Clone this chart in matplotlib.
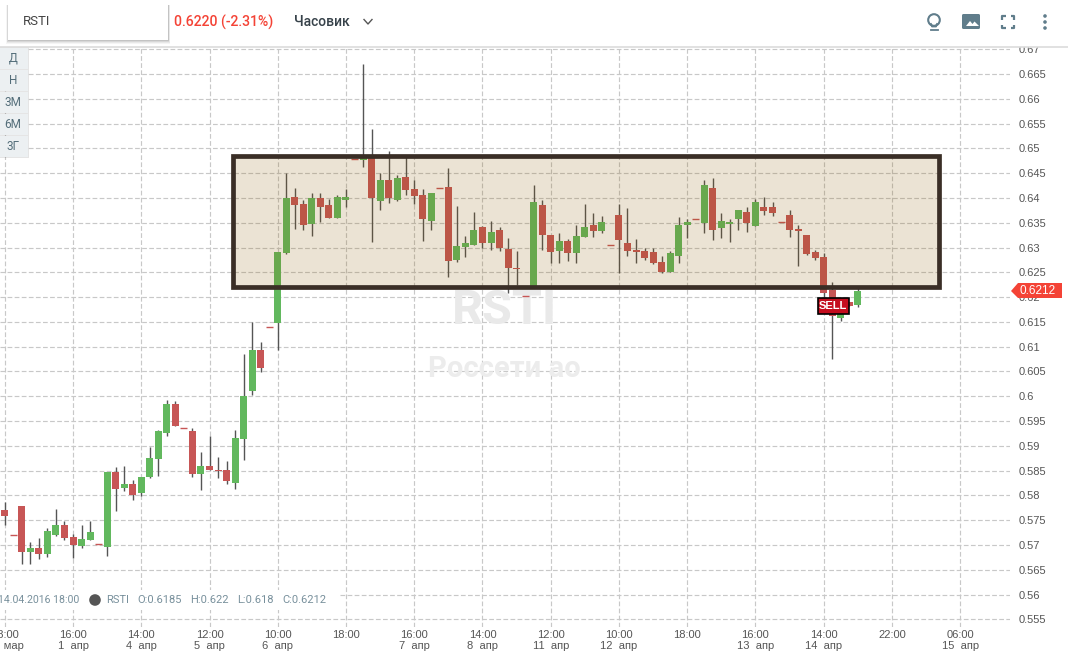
import numpy as np
import matplotlib
matplotlib.use("Agg")
import matplotlib.pyplot as plt
from matplotlib.patches import Rectangle, Polygon, Circle, FancyBboxPatch

plt.rcParams["font.family"] = ["Liberation Sans", "DejaVu Sans"]

### hourly candles
opens = [.5771, .5720, .5779, .5685, .5693, .5681, .5721, .5741, .5717, .5697,
         .5711, .5701, .5695, .5848, .5814, .5822, .5804, .5838, .5874, .5926,
         .5985, .5936, .5929, .5844, .5860, .5852, .5852, .5824, .5914, .6011,
         .6094, .6140, .6148, .6289, .6402, .6388, .6347, .6400, .6386, .6360,
         .6396, .6478, .6476, .6486, .6394, .6436, .6396, .6442, .6418, .6406,
         .6353, .6420, .6422, .6275, .6301, .6305, .6341, .6309, .6335, .6297,
         .6259, .6202, .6219, .6386, .6325, .6293, .6313, .6289, .6321, .6345,
         .6333, .6305, .6366, .6309, .6295, .6293, .6291, .6271, .6251, .6283,
         .6345, .6357, .6349, .6420, .6339, .6347, .6357, .6372, .6343, .6382,
         .6382, .6351, .6366, .6337, .6325, .6291, .6281, .6214, .6158, .6190,
         .6185]
closes = [.5759, .5720, .5685, .5693, .5681, .5729, .5741, .5715, .5699, .5713,
          .5727, .5701, .5848, .5812, .5822, .5800, .5838, .5876, .5929, .5985,
          .5939, .5936, .5844, .5860, .5852, .5850, .5830, .5916, .6000, .6094,
          .6057, .6140, .6291, .6400, .6386, .6345, .6400, .6382, .6360, .6402,
          .6402, .6478, .6482, .6400, .6436, .6400, .6440, .6416, .6404, .6358,
          .6410, .6420, .6273, .6303, .6309, .6335, .6309, .6331, .6299, .6259,
          .6257, .6202, .6392, .6325, .6291, .6313, .6289, .6323, .6341, .6333,
          .6351, .6305, .6315, .6293, .6291, .6279, .6269, .6251, .6289, .6345,
          .6351, .6357, .6426, .6335, .6353, .6351, .6376, .6349, .6392, .6374,
          .6370, .6351, .6335, .6333, .6287, .6279, .6208, .6162, .6170, .6182,
          .6212]
highs = [.5786, .5720, .5779, .5705, .5715, .5735, .5773, .5749, .5723, .5741,
         .5749, .5701, .5848, .5858, .5860, .5832, .5838, .5898, .5931, .5993,
         .5991, .5936, .5935, .5888, .5920, .5878, .5870, .5931, .6086, .6150,
         .6110, .6140, .6291, .6450, .6420, .6396, .6410, .6410, .6398, .6406,
         .6418, .6478, .6670, .6539, .6450, .6494, .6446, .6486, .6436, .6418,
         .6410, .6420, .6460, .6384, .6323, .6372, .6343, .6353, .6341, .6319,
         .6293, .6202, .6426, .6396, .6325, .6329, .6317, .6345, .6388, .6370,
         .6364, .6305, .6388, .6380, .6317, .6299, .6299, .6283, .6293, .6362,
         .6357, .6357, .6436, .6440, .6370, .6357, .6376, .6382, .6398, .6402,
         .6392, .6351, .6376, .6345, .6325, .6295, .6289, .6231, .6172, .6190,
         .6220]
lows = [.5741, .5720, .5661, .5661, .5671, .5675, .5719, .5711, .5673, .5693,
        .5711, .5701, .5677, .5769, .5808, .5790, .5798, .5836, .5840, .5920,
        .5939, .5936, .5838, .5810, .5852, .5836, .5822, .5812, .5872, .6003,
        .6049, .6140, .6094, .6287, .6337, .6335, .6323, .6351, .6360, .6360,
        .6382, .6478, .6462, .6311, .6376, .6390, .6394, .6406, .6388, .6313,
        .6335, .6420, .6241, .6271, .6281, .6305, .6299, .6295, .6293, .6208,
        .6225, .6202, .6219, .6295, .6269, .6269, .6273, .6269, .6321, .6321,
        .6329, .6305, .6249, .6283, .6269, .6275, .6267, .6249, .6251, .6269,
        .6319, .6357, .6329, .6315, .6319, .6311, .6335, .6331, .6343, .6366,
        .6364, .6351, .6321, .6263, .6285, .6275, .6200, .6076, .6152, .6182,
        .6180]

price_ticks = [.555, .56, .565, .57, .575, .58, .585, .59, .595, .6, .605, .61,
               .615, .62, .625, .63, .635, .64, .645, .65, .655, .66, .665, .67]
price_labels = ["0.555", "0.56", "0.565", "0.57", "0.575", "0.58", "0.585", "0.59",
                "0.595", "0.6", "0.605", "0.61", "0.615", "0.62", "0.625", "0.63",
                "0.635", "0.64", "0.645", "0.65", "0.655", "0.66", "0.665", "0.67"]
time_labels = ["18:00", "16:00", "14:00", "12:00", "10:00", "18:00", "16:00", "14:00",
               "12:00", "10:00", "18:00", "16:00", "14:00", "22:00", "06:00"]
day_labels = ["31  мар", "1  апр", "4  апр", "5  апр", "6  апр", "", "7  апр", "8  апр",
              "11  апр", "12  апр", "", "13  апр", "14  апр", "", "15  апр"]
bars_per_tick = 8

range_top = .6485
range_bottom = .6220
range_start = 26.75
range_end = 109.5
last_price = "0.6212"

GREEN = "#62b85e"
RED = "#c75656"
WICK = "#555555"
SLATE = "#607d8b"

W, H = 1068, 655
fig = plt.figure(figsize=(W / 100, H / 100), dpi=100, facecolor="white")

### chart area, x = 0..1010 px, y = 47..627 px
ax = fig.add_axes([0, 1 - 627 / H, 1010 / W, 580 / H])
ax.set_xlim(-0.56, 117.84)
ax.set_ylim(.55345, .67046)
for s in ax.spines.values():
    s.set_visible(False)

x = np.arange(len(opens))
o, c, h, l = map(np.array, (opens, closes, highs, lows))
up = c > o
colors = [GREEN if u else RED for u in up]

ax.vlines(x, l, h, color=WICK, lw=1.0, zorder=3)
ax.bar(x, np.abs(c - o), bottom=np.minimum(o, c), width=0.82, color=colors, lw=0, zorder=4)
flat = o == c
ax.hlines(c[flat], x[flat] - 0.41, x[flat] + 0.41, color=RED, lw=1.0, zorder=4)

tick_pos = np.arange(len(time_labels)) * bars_per_tick
ax.set_xticks(tick_pos)
ax.set_xticklabels([t + "\n" + d for t, d in zip(time_labels, day_labels)],
                   fontsize=8, color="#555555", linespacing=1.15)
ax.yaxis.tick_right()
ax.set_yticks(price_ticks)
ax.set_yticklabels(price_labels, fontsize=8, color="#555555")
ax.tick_params(axis="both", length=0)
ax.tick_params(axis="x", pad=2)
ax.tick_params(axis="y", pad=6)
ax.grid(True, color="#c8c8c8", lw=0.85, linestyle=(0, (4, 2)), zorder=1)
ax.set_axisbelow(True)

# watermark
ax.text(58.6, .6173, "RSTI", fontsize=35, fontweight="bold", family="Roboto", color="#e9e9e9",
        ha="center", va="center", zorder=2)
ax.text(58.6, .6056, "Россети ао", fontsize=21, fontweight="bold", family="Roboto", color="#ececec",
        ha="center", va="center", zorder=2)

# the hand drawn range box
ax.add_patch(Rectangle((range_start, range_bottom), range_end - range_start, range_top - range_bottom,
                       facecolor="#8a5a00", alpha=.17, lw=0, zorder=5))
ax.add_patch(Rectangle((range_start, range_bottom), range_end - range_start, range_top - range_bottom,
                       fill=False, edgecolor="#3a2e26", lw=3.4, joinstyle="miter", zorder=6))

### everything else is page furniture, drawn in pixels
ui = fig.add_axes([0, 0, 1, 1], zorder=5)
ui.set_xlim(0, W)
ui.set_ylim(H, 0)
ui.axis("off")
ui.patch.set_alpha(0)

ui.add_patch(Rectangle((0, 0), W, 46.5, facecolor="white", lw=0))
ui.plot([0, W], [46.7, 46.7], color="#dcdcdc", lw=1.2)

# symbol box with a soft shadow
for k, a in ((4, .04), (3, .05), (2, .07), (1, .09)):
    ui.add_patch(Rectangle((8 - k / 2, 5), 160 + k, 35 + k, facecolor="black", alpha=a, lw=0))
ui.add_patch(Rectangle((8, 5), 160, 35, facecolor="white", lw=0))
ui.text(23, 21.5, "RSTI", fontsize=9.5, family="Roboto", color="#444444", va="center")
ui.text(174, 22, "0.6220 (-2.31%)", fontsize=10.1, family="Roboto", fontweight="medium",
        color="#f44336", va="center")
ui.text(294, 22, "Часовик", fontsize=10, family="Roboto", fontweight="medium", color="#37424a", va="center")
ui.plot([364, 368, 372], [19.5, 24, 19.5], color="#555555", lw=1)

# period buttons
ui.add_patch(Rectangle((0, 47), 28.5, 111, facecolor="black", alpha=.1, lw=0))
for i, name in enumerate(["Д", "Н", "3М", "6М", "3Г"]):
    ui.add_patch(Rectangle((0, 47.5 + 22 * i), 27.5, 21, facecolor="#ecf0f2", lw=0))
    ui.text(13, 58 + 22 * i, name, fontsize=8.5, family="Roboto", color="#546e7a", ha="center", va="center")

# header icons
ui.add_patch(Circle((934, 20), 5.8, fill=False, edgecolor=SLATE, lw=1.5))
ui.plot([931, 932, 936, 937], [24, 26.5, 26.5, 24], color=SLATE, lw=1.3)
ui.plot([930.5, 937.5], [29.5, 29.5], color=SLATE, lw=1.3)
ui.add_patch(FancyBboxPatch((962, 14), 18, 15, boxstyle="round,pad=0,rounding_size=1.5", facecolor=SLATE, lw=0))
ui.add_patch(Polygon([(966, 26), (970, 21), (972.5, 24), (974.5, 21.5), (979, 26)], facecolor="white", lw=0))
for cx, sx in ((1002, 1), (1014, -1)):
    for cy, sy in ((16, 1), (28, -1)):
        ui.plot([cx + 3.5 * sx, cx, cx], [cy, cy, cy + 3.5 * sy], color=SLATE, lw=1.6, solid_capstyle="butt")
for cy in (16, 22, 28):
    ui.add_patch(Circle((1045, cy), 1.8, facecolor=SLATE, lw=0))

# ohlc readout on a white strip
ui.add_patch(Rectangle((0, 590), 340, 20, facecolor="white", lw=0))
ui.text(-2, 600, "14.04.2016 18:00", fontsize=7.6, family="Roboto", color="#78909c", va="center")
ui.add_patch(Circle((95, 600), 5.8, facecolor="#555555", lw=0))
for tx, s in ((106, "RSTI"), (137, "O:0.6185"), (190, "H:0.622"), (237, "L:0.618"), (282, "C:0.6212")):
    ui.text(tx, 600, s, fontsize=8, family="Roboto", color="#78909c", va="center")

# last price tag
ui.add_patch(Polygon([(1011, 291), (1018, 283), (1062, 283), (1062, 298), (1018, 298)], facecolor="#f44336", lw=0))
ui.text(1019, 291, last_price, fontsize=8.5, color="white", va="center")

# sell marker
ui.add_patch(Rectangle((817.5, 297.5), 31, 16, facecolor="#c40d1e", edgecolor="black", lw=1.2))
ui.text(833, 305.8, "SELL", fontsize=8, fontweight="bold", color="white", ha="center", va="center")

fig.savefig("out.png", dpi=100)
